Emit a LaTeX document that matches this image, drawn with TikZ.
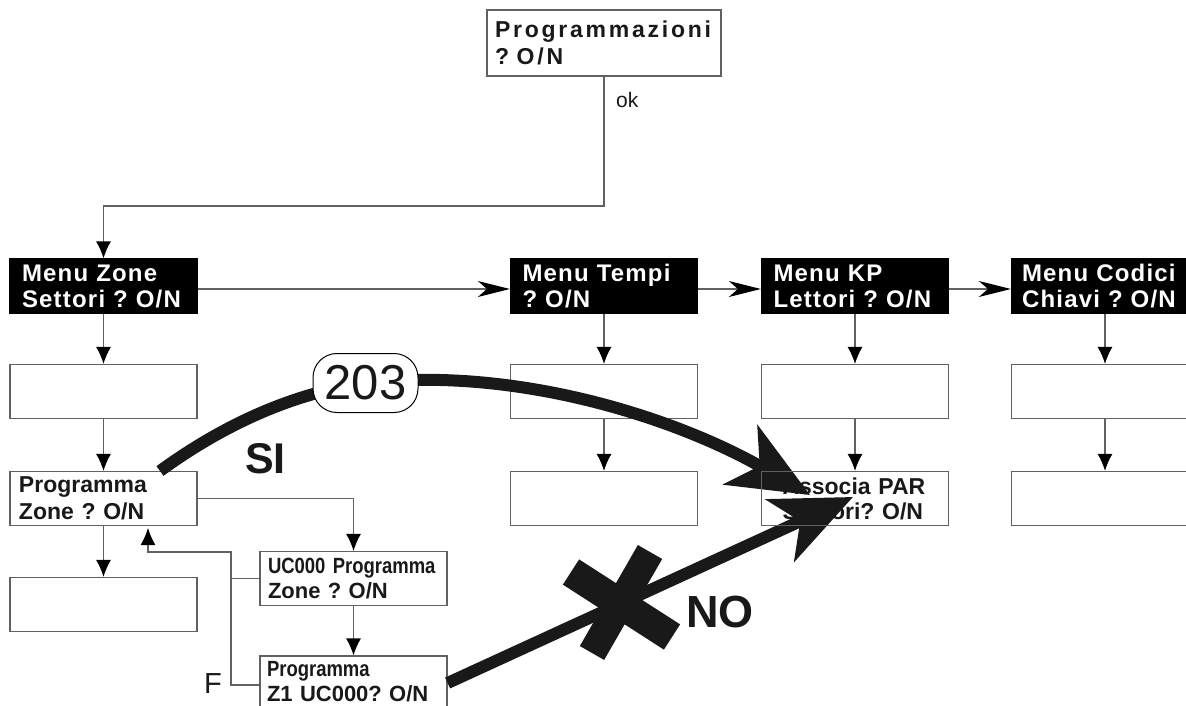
\documentclass[tikz,border=0pt]{standalone}
\usepackage{fontspec}
\setmainfont{Liberation Sans}
\newfontfamily\spacedfont[LetterSpace=5]{Liberation Sans}
\newfontfamily\progfont[LetterSpace=12]{Liberation Sans}
\newfontfamily\narrowfont[FakeStretch=0.84]{Liberation Sans}
\usetikzlibrary{arrows.meta}
\definecolor{linegray}{gray}{0.38}
\definecolor{inkdark}{gray}{0.1}
\pgfdeclarelayer{fg}
\pgfsetlayers{main,fg}
\frenchspacing
\begin{document}
\begin{tikzpicture}[x=1pt,y=-1pt,
  box/.style={draw=linegray, line width=1.2pt, inner sep=0pt, minimum width=187pt, minimum height=54pt, align=left, text=inkdark, text width=169pt, font=\bfseries\fontsize{23}{27}\selectfont},
  menubox/.style={box, fill=black, draw=black, text=white, text width=163pt, font=\spacedfont\bfseries\fontsize{24}{26}\selectfont},
  conn/.style={draw=linegray, line width=1.2pt},
  varrow/.style={conn, -{Latex[length=17pt,width=15pt,color=black]}},
  harrow/.style={conn, -{Stealth[length=32pt,width=16pt,inset=9pt,color=black]}},
  bigarrow/.style={line width=12pt, draw=inkdark, -{Stealth[length=80pt,width=68pt,inset=22pt,color=inkdark]}},
  lbl/.style={inner sep=0pt, text=inkdark, anchor=base west},
]
\useasboundingbox (0,0) rectangle (1186,706);
\fill[white] (0,0) rectangle (1186,706);
\clip (0,0) rectangle (1186,706);

% top box
\node[box, minimum width=234pt, minimum height=66pt, text width=218pt, font=\progfont\bfseries\fontsize{23}{27}\selectfont] (top) at (604,43) {Programmazioni\\? O/N};

% row 1
\node[menubox] (mz) at (103.5,286) {Menu Zone\\Settori ? O/N};
\node[menubox] (mt) at (604,286) {Menu Tempi\\? O/N};
\node[menubox] (kp) at (855,286) {Menu KP\\Lettori ? O/N};
\node[menubox, text width=166pt] (cd) at (1105,286) {Menu Codici\\Chiavi ? O/N};

% row 2
\node[box] (a2) at (103.5,391.5) {};
\node[box] (b2) at (604,391.5) {};
\node[box] (c2) at (855,391.5) {};
\node[box] (d2) at (1105,391.5) {};

% row 3
\node[box] (pz) at (103.5,498.5) {Programma\\Zone ? O/N};
\node[box] (b3) at (604,498.5) {};
\begin{pgfonlayer}{fg}
\node[box, text width=145pt, font=\bfseries\fontsize{23}{25}\selectfont] (as) at (855,498.5) {Associa PAR\\Seetori? O/N};
\end{pgfonlayer}
\node[box] (d3) at (1105,498.5) {};

% row 4
\node[box] (a4) at (103.5,604.5) {};

% sub boxes
\node[box, text width=171pt, font=\bfseries\fontsize{22}{25}\selectfont] (uc) at (353.5,578.5) {{\narrowfont UC000 Programma}\\Zone ? O/N};
\node[box, minimum height=52pt, text width=173pt, font=\bfseries\fontsize{22}{25}\selectfont] (z1) at (353.5,682) {{\narrowfont Programma}\\Z1 UC000? O/N};

% connectors
\coordinate (c1) at (604,206);
\draw[varrow] (top.south) -- (c1) -| (mz.north);
\node[lbl, font=\fontsize{21}{21}\selectfont] (ok) at (616,108) {ok};

\draw[harrow] ([yshift=-3pt]mz.east) -- ([yshift=-3pt]mt.west);
\draw[harrow] ([yshift=-3pt]mt.east) -- ([yshift=-3pt]kp.west);
\draw[harrow] ([yshift=-3pt]kp.east) -- ([yshift=-3pt]cd.west);

\draw[varrow] (mz.south) -- (a2.north);
\draw[varrow] (a2.south) -- (pz.north);
\draw[varrow] (pz.south) -- (a4.north);
\draw[varrow] (mt.south) -- (b2.north);
\draw[varrow] (b2.south) -- (b3.north);
\draw[varrow] (kp.south) -- (c2.north);
\draw[varrow] (c2.south) -- (as.north);
\draw[varrow] (cd.south) -- (d2.north);
\draw[varrow] (d2.south) -- (d3.north);

\draw[varrow] (pz.east) -| (uc.north);
\draw[varrow] (uc.south) -- (z1.north);
\coordinate (fbtop) at (231,552);
\coordinate (pzin) at (148,528);
\draw[varrow] ([yshift=-3pt]z1.west) -| (fbtop) -| (pzin);
\draw[conn] (uc.west) -- (uc.west -| fbtop);
\node[lbl, font=\fontsize{29}{29}\selectfont] (F) at (204,693) {F};

% thick arrows
\coordinate (sistart) at (160,471);
\coordinate (c203) at (365.5,383);
\coordinate (sitip) at (810,495);
\draw[bigarrow] (sistart) .. controls (230,420) and (300,392) .. (c203) .. controls (520,366) and (680,420) .. (sitip);
\coordinate (notip) at (853,497);
\draw[bigarrow] ([yshift=-1pt]z1.east) -- (notip);

% cross
\draw[line width=30pt, draw=inkdark] (571,572) -- (672,637);
\draw[line width=28pt, draw=inkdark] (650,552) -- (592,653);

% 203 node
\node[draw=black, line width=1pt, fill=white, rounded corners=24pt, minimum width=105pt, minimum height=59pt, inner sep=0pt, font=\fontsize{49}{49}\selectfont, text=inkdark] (n203) at (c203) {203};

% labels
\node[lbl, font=\bfseries\fontsize{43}{43}\selectfont] (si) at (245,473) {SI};
\node[lbl, font=\bfseries\fontsize{45}{45}\selectfont] (no) at (686,627) {NO};
\end{tikzpicture}
\end{document}
